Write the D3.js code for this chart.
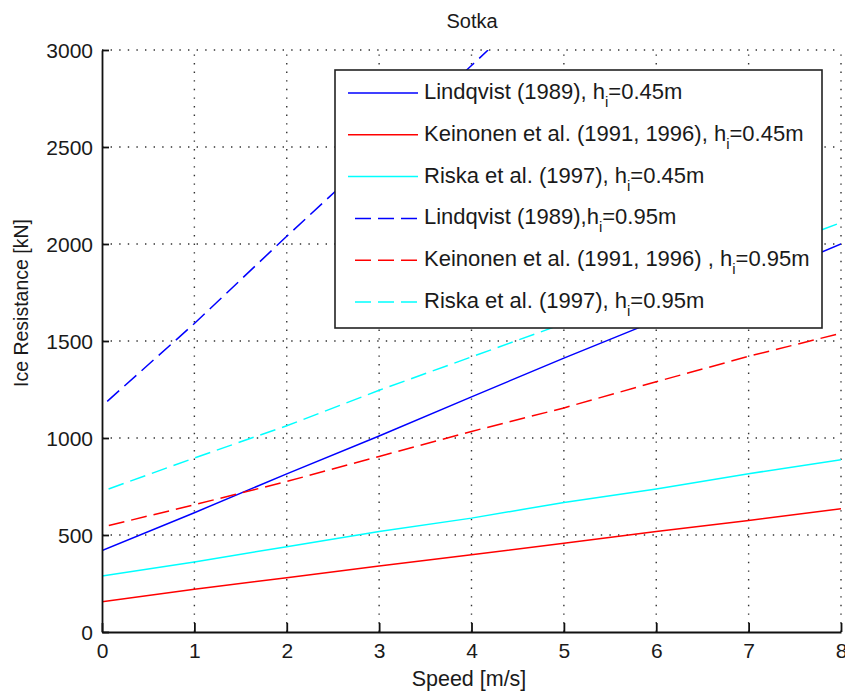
<!DOCTYPE html>
<html>
<head>
<meta charset="utf-8">
<script src="https://cdn.jsdelivr.net/npm/d3@7"></script>
<style>
  html, body { margin: 0; padding: 0; background: #fff; }
  svg text { font-family: "Liberation Sans", Arial, sans-serif; fill: #1a1a1a; }
</style>
</head>
<body>
<svg id="chart" width="845" height="691"></svg>
<script>
// Speed samples [m/s]
const speeds = [0, 1, 2, 3, 4, 5, 6, 7, 8];

// Ice resistance [kN], level ice h_i = 0.45 m
const lindqvist045 = [420, 615, 815, 1010, 1212, 1412, 1605, 1800, 2000];
const keinonen045  = [156, 220, 280, 340, 398, 458, 518, 575, 635];
const riska045     = [289, 361, 440, 518, 587, 668, 737, 816, 888];

// Ice resistance [kN], level ice h_i = 0.95 m
const lindqvist095Speeds = [0, 1, 2, 3, 4, 4.18];
const lindqvist095 = [1165, 1590, 2040, 2480, 2920, 3000];
const keinonen095  = [540, 656, 776, 905, 1034, 1155, 1290, 1421, 1540];
const riska095     = [725, 897, 1063, 1246, 1418, 1590, 1765, 1935, 2110];

const xTicks = [0, 1, 2, 3, 4, 5, 6, 7, 8];
const yTicks = [0, 500, 1000, 1500, 2000, 2500, 3000];

const series = [
  { label: ["Lindqvist (1989), h", "i", "=0.45m"], xs: speeds, ys: lindqvist045, color: "#0000ff", dashed: false },
  { label: ["Keinonen et al. (1991, 1996), h", "i", "=0.45m"], xs: speeds, ys: keinonen045, color: "#ff0000", dashed: false },
  { label: ["Riska et al. (1997), h", "i", "=0.45m"], xs: speeds, ys: riska045, color: "#00ffff", dashed: false },
  { label: ["Lindqvist (1989),h", "i", "=0.95m"], xs: lindqvist095Speeds, ys: lindqvist095, color: "#0000ff", dashed: true },
  { label: ["Keinonen et al. (1991, 1996) , h", "i", "=0.95m"], xs: speeds, ys: keinonen095, color: "#ff0000", dashed: true },
  { label: ["Riska et al. (1997), h", "i", "=0.95m"], xs: speeds, ys: riska095, color: "#00ffff", dashed: true }
];

const svg = d3.select("#chart");
const plotLeft = 102, plotRight = 841, plotTop = 50, plotBottom = 632;

const x = d3.scaleLinear().domain([0, 8]).range([plotLeft, plotRight]);
const y = d3.scaleLinear().domain([0, 3000]).range([plotBottom, plotTop]);

// clip region for the data lines
svg.append("defs").append("clipPath").attr("id", "plot-clip")
  .append("rect").attr("x", plotLeft).attr("y", plotTop)
  .attr("width", plotRight - plotLeft).attr("height", plotBottom - plotTop);

// dotted grid
const grid = svg.append("g").attr("stroke", "#333").attr("stroke-width", 1.4)
  .attr("stroke-dasharray", "1.4,7.2");
grid.selectAll("line.gx").data(xTicks.filter(d => d > 0)).join("line")
  .attr("class", "gx")
  .attr("x1", d => x(d)).attr("x2", d => x(d))
  .attr("y1", plotBottom).attr("y2", plotTop);
grid.selectAll("line.gy").data(yTicks.filter(d => d > 0)).join("line")
  .attr("class", "gy")
  .attr("y1", d => y(d)).attr("y2", d => y(d))
  .attr("x1", plotLeft).attr("x2", plotRight);

// data lines
const line = d3.line().x(d => x(d[0])).y(d => y(d[1]));
const lines = svg.append("g").attr("clip-path", "url(#plot-clip)");
series.forEach(s => {
  lines.append("path")
    .datum(s.xs.map((v, i) => [v, s.ys[i]]))
    .attr("d", line)
    .attr("fill", "none")
    .attr("stroke", s.color)
    .attr("stroke-width", 1.5)
    .attr("stroke-dasharray", s.dashed ? "16,7" : null)
    .attr("stroke-dashoffset", s.dashed ? 16 : null);
});

// axes with inward ticks
const xAxis = d3.axisBottom(x).tickValues(xTicks).tickFormat(d3.format("d"))
  .tickSizeInner(-9).tickSizeOuter(0);
const yAxis = d3.axisLeft(y).tickValues(yTicks).tickFormat(d3.format("d"))
  .tickSizeInner(-7).tickSizeOuter(0);

const gx = svg.append("g").attr("transform", `translate(0,${plotBottom})`).call(xAxis);
const gy = svg.append("g").attr("transform", `translate(${plotLeft},0)`).call(yAxis);
[gx, gy].forEach(g => {
  g.select(".domain").attr("stroke", "#111").attr("stroke-width", 1.8);
  g.selectAll(".tick line").attr("stroke", "#111").attr("stroke-width", 1.8);
  g.selectAll(".tick text").attr("font-size", 21)
    .attr("font-family", "'Liberation Sans', Arial, sans-serif").attr("fill", "#1a1a1a");
});
gy.selectAll(".tick text").attr("x", -9).attr("dy", "0.36em");
gx.selectAll(".tick text").attr("y", 26).attr("dy", 0);

// title and axis labels
svg.append("text").attr("x", 472).attr("y", 28).attr("text-anchor", "middle")
  .attr("font-size", 20).text("Sotka");
svg.append("text").attr("x", 469).attr("y", 686).attr("text-anchor", "middle")
  .attr("font-size", 21.5).text("Speed [m/s]");
svg.append("text").attr("transform", "translate(28,303) rotate(-90)")
  .attr("text-anchor", "middle").attr("font-size", 19.5).text("Ice Resistance [kN]");

// legend
const legend = svg.append("g");
legend.append("rect").attr("x", 335).attr("y", 70).attr("width", 487).attr("height", 258)
  .attr("fill", "#fff").attr("stroke", "#222").attr("stroke-width", 1.6);
series.forEach((s, i) => {
  const base = 99 + i * 41.8;
  legend.append("line")
    .attr("x1", 348).attr("x2", 418)
    .attr("y1", base - 6).attr("y2", base - 6)
    .attr("stroke", s.color).attr("stroke-width", 1.5)
    .attr("stroke-dasharray", s.dashed ? "16,7" : null)
    .attr("stroke-dashoffset", s.dashed ? 16 : null);
  const t = legend.append("text").attr("x", 424).attr("y", base).attr("font-size", 22);
  t.append("tspan").text(s.label[0]);
  t.append("tspan").attr("font-size", 15).attr("dy", 8).text(s.label[1]);
  t.append("tspan").attr("dy", -8).text(s.label[2]);
});
</script>
</body>
</html>
